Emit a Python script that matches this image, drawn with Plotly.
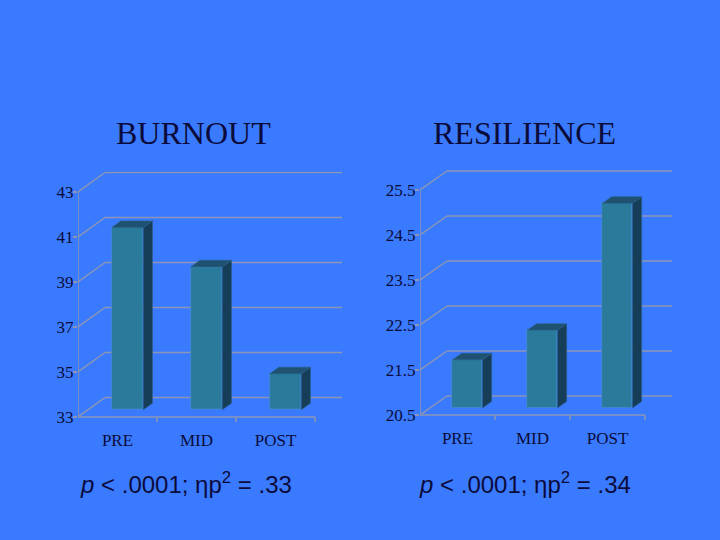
import plotly.graph_objects as go

# ---- data ----
categories = ["PRE", "MID", "POST"]
burnout_values = [41.1, 39.35, 34.6]
resilience_values = [21.57, 22.23, 25.05]
burnout_ticks = [33, 35, 37, 39, 41, 43]
resilience_ticks = [20.5, 21.5, 22.5, 23.5, 24.5, 25.5]
titles = ["BURNOUT", "RESILIENCE"]
stats_text = ["<i>p</i> < .0001; ηp<sup>2</sup> = .33", "<i>p</i> < .0001; ηp<sup>2</sup> = .34"]

BG = "#3a7afe"
GRID = "#8c96b4"
FRONT = "#2a7a9b"
SIDE = "#163e58"
TOP = "#1e5270"
TXT = "#0b0b3b"

fig = go.Figure()

panels = [
    dict(vals=burnout_values, ticks=burnout_ticks, xa="x", ya="y",
         x_px=(78, 315), y_px=(417, 192), dx_px=27, dy_px=19.5),
    dict(vals=resilience_values, ticks=resilience_ticks, xa="x2", ya="y2",
         x_px=(420, 645), y_px=(415, 190), dx_px=27, dy_px=19),
]
W, H = 720, 540
f0, fd, bw = 0.37, 0.34, 0.4
pad_px = 9
shapes = []
layout_axes = {}
for k, p in enumerate(panels):
    ticks = p["ticks"]
    ymin, ymax = ticks[0], ticks[-1]
    xppu = (p["x_px"][1] - p["x_px"][0]) / 3.0
    yppu = (p["y_px"][0] - p["y_px"][1]) / (ymax - ymin)
    dxu = p["dx_px"] / xppu
    dyu = p["dy_px"] / yppu
    pad = pad_px / yppu
    xr = [-0.5, 2.5 + dxu + 0.02]
    yr = [ymin - pad, ymax + dyu + 0.05]
    x0p = p["x_px"][0]
    x1p = x0p + (xr[1] - xr[0]) * xppu
    yb = p["y_px"][0] + pad * yppu
    yt = p["y_px"][0] - (yr[1] - ymin) * yppu
    sfx = "" if k == 0 else "2"
    layout_axes["xaxis" + sfx] = dict(
        domain=[x0p / W, x1p / W], range=xr, anchor="y" + sfx,
        tickvals=[0, 1, 2], ticktext=categories, ticks="", showgrid=False,
        zeroline=False, showline=False, ticklabelstandoff=2,
        tickfont=dict(family="Liberation Serif", size=17, color=TXT))
    layout_axes["yaxis" + sfx] = dict(
        domain=[(H - yb) / H, (H - yt) / H], range=yr, anchor="x" + sfx,
        tickvals=ticks, ticktext=[str(t) for t in ticks], ticks="outside",
        ticklen=4, tickcolor=GRID, tickwidth=1.5, showgrid=False,
        zeroline=False, showline=False, ticklabelstandoff=-4,
        tickfont=dict(family="Liberation Serif", size=17, color=TXT))
    line = dict(color=GRID, width=1.5)
    for t in ticks:
        shapes.append(dict(type="line", xref=p["xa"], yref=p["ya"], layer="below",
                           x0=-0.5, y0=t, x1=-0.5 + dxu, y1=t + dyu, line=line))
        shapes.append(dict(type="line", xref=p["xa"], yref=p["ya"], layer="below",
                           x0=-0.5 + dxu, y0=t + dyu, x1=2.5 + dxu, y1=t + dyu, line=line))
    shapes.append(dict(type="line", xref=p["xa"], yref=p["ya"], layer="below",
                       x0=-0.5, y0=ymin, x1=-0.5, y1=ymax, line=line))
    shapes.append(dict(type="line", xref=p["xa"], yref=p["ya"], layer="below",
                       x0=-0.5, y0=ymin, x1=2.5, y1=ymin, line=line))
    for b in [0.5, 1.5, 2.5]:
        shapes.append(dict(type="line", xref=p["xa"], yref=p["ya"], layer="below",
                           ysizemode="pixel", yanchor=ymin, x0=b, x1=b, y0=0, y1=-5,
                           line=line))
    xs = [i + f0 * dxu for i in range(3)]
    base = ymin + f0 * dyu
    fig.add_trace(go.Bar(x=xs, y=[v - ymin for v in p["vals"]], base=base, width=bw,
                         marker=dict(color=FRONT, line=dict(color="#4a8fd0", width=0.6)),
                         xaxis=p["xa"], yaxis=p["ya"], showlegend=False,
                         hoverinfo="skip"))
    for xc, v in zip(xs, p["vals"]):
        top = v + f0 * dyu
        xr_ = xc + bw / 2
        xl_ = xc - bw / 2
        ddx, ddy = fd * dxu, fd * dyu
        fig.add_trace(go.Scatter(
            x=[xr_, xr_ + ddx, xr_ + ddx, xr_, xr_],
            y=[base, base + ddy, top + ddy, top, base],
            fill="toself", fillcolor=SIDE, mode="lines",
            line=dict(color="#2d5f8a", width=0.6),
            xaxis=p["xa"], yaxis=p["ya"], showlegend=False, hoverinfo="skip"))
        fig.add_trace(go.Scatter(
            x=[xl_, xr_, xr_ + ddx, xl_ + ddx, xl_],
            y=[top, top, top + ddy, top + ddy, top],
            fill="toself", fillcolor=TOP, mode="lines",
            line=dict(color="#2d5f8a", width=0.6),
            xaxis=p["xa"], yaxis=p["ya"], showlegend=False, hoverinfo="skip"))

def ann(text, xp, yp, fam, size):
    return dict(text=text, x=xp / W, y=(H - yp) / H, xref="paper", yref="paper",
                xanchor="center", yanchor="middle", showarrow=False,
                font=dict(family=fam, size=size, color=TXT))

annotations = [
    ann(titles[0], 193, 133, "Liberation Serif", 32),
    ann(titles[1], 524, 132.5, "Liberation Serif", 32),
    ann(stats_text[0], 186, 483, "Liberation Sans", 24),
    ann(stats_text[1], 524.5, 483, "Liberation Sans", 24),
]

fig.update_layout(width=W, height=H, margin=dict(l=0, r=0, t=0, b=0),
                  paper_bgcolor=BG, plot_bgcolor=BG, showlegend=False,
                  shapes=shapes, annotations=annotations, bargap=0, **layout_axes)
fig.write_html("out.html", config={"displayModeBar": False},
               post_script="document.body.style.margin='0';")
